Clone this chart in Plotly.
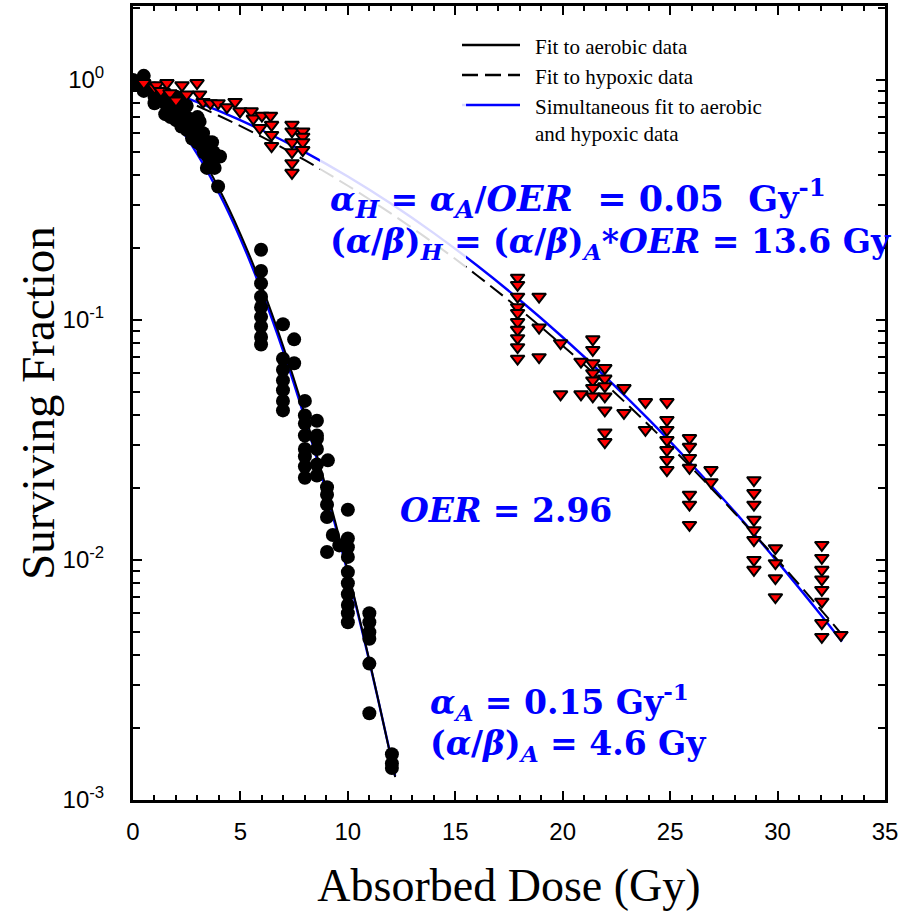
import plotly.graph_objects as go

# ---------------- data ----------------
aer_dose = [0, 0, 0.25, 0.5, 0.5, 0.5, 0.75, 1.0, 1.0, 1.0, 1.2, 1.25, 1.5, 1.5, 1.5, 1.75, 1.75,
            2.0, 2.0, 2.0, 2.2, 2.25, 2.25, 2.5, 2.5, 2.5, 2.75, 2.75, 2.8, 3.0, 3.0, 3.0, 3.1, 3.26,
            3.3, 3.44, 3.5, 3.5, 3.6, 3.68, 3.75, 3.8, 3.96, 4.05,
            5.96, 5.96, 5.96, 5.96, 5.96, 5.96, 5.96, 5.96, 5.96,
            6.98, 6.98, 6.98, 6.98, 6.98, 6.98, 6.98, 7.5, 7.5,
            8.0, 8.0, 8.0, 8.0, 8.0, 8.0, 8.0, 8.0,
            8.56, 8.56, 8.56, 8.56, 8.56, 8.56,
            9.07, 9.03, 9.03, 9.03, 9.03, 9.03, 9.3, 9.6,
            10.0, 10.0, 10.0, 10.0, 10.0, 10.0, 10.0, 10.0, 10.0, 10.0,
            11.0, 11.0, 11.0, 11.0, 11.0, 11.0,
            12.05, 12.05, 12.05]
aer_sf = [1.0, 0.97, 0.95, 1.04, 0.95, 0.9, 0.92, 0.92, 0.85, 0.8, 0.88, 0.83, 0.88, 0.8, 0.72, 0.8, 0.7,
          0.85, 0.76, 0.68, 0.8, 0.72, 0.64, 0.78, 0.7, 0.62, 0.65, 0.57, 0.6, 0.7, 0.62, 0.55, 0.67, 0.60,
          0.5, 0.43, 0.55, 0.48, 0.47, 0.55, 0.5, 0.43, 0.36, 0.48,
          0.196, 0.16, 0.142, 0.125, 0.113, 0.103, 0.094, 0.085, 0.079,
          0.096, 0.069, 0.062, 0.056, 0.051, 0.046, 0.042, 0.083, 0.066,
          0.046, 0.040, 0.037, 0.033, 0.029, 0.027, 0.0245, 0.022,
          0.038, 0.033, 0.032, 0.029, 0.025, 0.0225,
          0.026, 0.0201, 0.0187, 0.0170, 0.0151, 0.0108, 0.0127, 0.0115,
          0.0162, 0.0123, 0.0113, 0.0103, 0.0089, 0.0080, 0.0072, 0.0065, 0.0060, 0.0055,
          0.0060, 0.0055, 0.0050, 0.0047, 0.0037, 0.0023,
          0.00155, 0.00142, 0.00136]

hyp_dose = [0.5, 1.0, 1.1, 1.3, 1.58, 1.72, 2.0, 2.28, 2.5, 2.98, 3.1, 3.26, 3.6, 3.96, 4.37, 4.75,
            4.98, 5.5, 5.6, 5.9, 6.0, 6.4, 6.45, 6.45, 6.45,
            7.4, 7.4, 7.4, 7.4, 7.4, 7.4, 7.9, 7.9, 7.9, 7.9,
            17.9, 17.9, 17.9, 17.9, 17.9, 17.9, 17.9, 17.9, 17.9, 17.9,
            18.9, 18.9, 18.9, 19.9, 19.9, 20.85, 20.85,
            21.4, 21.4, 21.4, 21.4, 21.4, 21.4, 21.4,
            21.96, 21.96, 21.96, 21.96, 21.96, 21.96, 21.96,
            22.85, 22.85, 23.85, 23.85,
            24.85, 24.85, 24.85, 24.85, 24.85, 24.85, 24.85,
            25.9, 25.9, 25.9, 25.9, 25.9, 25.9, 25.9,
            26.9, 26.9,
            28.9, 28.9, 28.9, 28.9, 28.9, 28.9, 28.9, 28.9,
            29.9, 29.9, 29.9, 29.9,
            32.06, 32.06, 32.06, 32.06, 32.06, 32.06, 32.06, 32.06,
            32.95]
hyp_sf = [0.97, 0.93, 0.95, 0.9, 0.97, 0.88, 0.82, 0.95, 0.87, 0.97, 0.87, 0.81, 0.80, 0.80, 0.77, 0.81,
          0.74, 0.74, 0.69, 0.63, 0.71, 0.71, 0.65, 0.59, 0.53,
          0.65, 0.61, 0.55, 0.50, 0.45, 0.41, 0.61, 0.58, 0.55, 0.51,
          0.150, 0.140, 0.125, 0.113, 0.107, 0.098, 0.091, 0.084, 0.077, 0.069,
          0.125, 0.093, 0.070, 0.080, 0.049, 0.067, 0.049,
          0.083, 0.075, 0.066, 0.060, 0.056, 0.052, 0.048,
          0.063, 0.057, 0.053, 0.048, 0.042, 0.034, 0.031,
          0.052, 0.041, 0.0455, 0.0348,
          0.0455, 0.0383, 0.0348, 0.0316, 0.0287, 0.0261, 0.0237,
          0.0322, 0.0296, 0.0266, 0.0242, 0.0187, 0.0170, 0.0140,
          0.0237, 0.0211,
          0.0215, 0.0190, 0.0170, 0.0147, 0.0133, 0.0121, 0.0100, 0.0091,
          0.0112, 0.0097, 0.0084, 0.0070,
          0.01155, 0.0102, 0.0091, 0.0083, 0.0075, 0.0067, 0.00546, 0.00478,
          0.00487]

# fitted curves
fitA_dose = [0, 1, 2, 3, 4, 5, 6, 7, 8, 9, 10, 11, 12, 12.2]
fitA_sf = [1.0, 0.856, 0.684, 0.509, 0.353, 0.228, 0.1376, 0.0773, 0.0405, 0.0198,
           0.0090, 0.00382, 0.00151, 0.001245]
simA_sf = [1.0, 0.845, 0.665, 0.490, 0.338, 0.218, 0.131, 0.0738, 0.0388, 0.0191,
           0.0088, 0.00378, 0.00152, 0.00126]

fitH_dose = [0, 2, 4, 6, 8, 10, 12, 14, 16, 18, 20, 22, 24, 26, 28, 30, 32, 33]
fitH_sf = [1.0, 0.851, 0.709, 0.579, 0.4628, 0.3624, 0.2779, 0.2088, 0.1536, 0.1107, 0.0781,
           0.0540, 0.0365, 0.0242, 0.0157, 0.0100, 0.00623, 0.00488]
simH_sf = [1.0, 0.8726, 0.7430, 0.6172, 0.5003, 0.3957, 0.3054, 0.2300, 0.1690, 0.1211, 0.0847,
           0.0578, 0.0385, 0.0250, 0.0159, 0.00982, 0.00593, 0.00457]

legend_names = ["Fit to aerobic data", "Fit to hypoxic data",
                "Simultaneous fit to aerobic<br>and hypoxic data"]

x_ticks = [0, 5, 10, 15, 20, 25, 30, 35]
y_ticks = [1, 0.1, 0.01, 0.001]
y_ticktext = ["10<sup>0</sup>", "10<sup>-1</sup>", "10<sup>-2</sup>", "10<sup>-3</sup>"]
y_minor = [m * 10.0 ** e for e in (-3, -2, -1, 0) for m in range(2, 10)]

# ---------------- figure ----------------
fig = go.Figure()

BLUE = "#0000ff"
DASH = "16px,7px"
fig.add_trace(go.Scatter(
    x=fitA_dose + [None] + fitH_dose, y=simA_sf + [None] + simH_sf,
    mode="lines", line=dict(color=BLUE, width=2.4, shape="spline"),
    name=legend_names[2], showlegend=False, connectgaps=False))
fig.add_trace(go.Scatter(
    x=fitA_dose, y=fitA_sf, mode="lines",
    line=dict(color="black", width=2, shape="spline"),
    name=legend_names[0], showlegend=False))
fig.add_trace(go.Scatter(
    x=fitH_dose, y=fitH_sf, mode="lines",
    line=dict(color="black", width=2, dash=DASH, shape="spline"),
    name=legend_names[1], showlegend=False))

fig.add_trace(go.Scatter(
    x=aer_dose, y=aer_sf, mode="markers", showlegend=False,
    marker=dict(symbol="circle", size=14, color="black", line=dict(width=0))))
fig.add_trace(go.Scatter(
    x=hyp_dose, y=hyp_sf, mode="markers", showlegend=False,
    marker=dict(symbol="triangle-down", size=12, color="#ff0000",
                line=dict(width=2, color="black"))))

# plot-area pixel helpers (paper coords) for text placement
L, R, T, B = 133, 885, 6, 800
def px(xp):
    return (xp - L) / (R - L)
def py(yp):
    return (B - yp) / (B - T)

def bigsub(s, size=25):
    return "<sub><span style='font-size:%dpx'>%s</span></sub>" % (size, s)

NB = "\u00a0"
line1 = ("<b><i>α" + bigsub("H") + "</i> = <i>α" + bigsub("A") + "</i>/"
         "<span style='font-size:35px'><i>OER</i>" + NB + " = 0.05" + NB
         + " Gy<sup>-1</sup></span></b>")

ann_font = dict(family="DejaVu Serif", size=33, color=BLUE)
annotations = [
    dict(text=line1, x=px(328), y=py(198)),
    dict(text="<b>(<i>α</i>/<i>β</i>)<sub><i>H</i></sub> = (<i>α</i>/<i>β</i>)<sub><i>A</i></sub>*<i>OER</i> = 13.6 Gy</b>",
         x=px(328), y=py(243)),
    dict(text="<b><i>OER</i> = 2.96</b>", x=px(398), y=py(510)),
    dict(text="<b><i>α<sub>A</sub></i> = 0.15 Gy<sup>-1</sup></b>", x=px(428), y=py(702)),
    dict(text="<b>(<i>α</i>/<i>β</i>)<sub><i>A</i></sub> = 4.6 Gy</b>", x=px(428), y=py(745)),
]
for a in annotations:
    fig.add_annotation(xref="paper", yref="paper", xanchor="left", yanchor="middle",
                       showarrow=False, font=ann_font, **a)

# y axis title placed as rotated text
fig.add_annotation(xref="paper", yref="paper", x=px(38), y=py(403), xanchor="center",
                   yanchor="middle", textangle=-90, showarrow=False, text="Surviving Fraction",
                   font=dict(family="Liberation Serif", size=47, color="black"))

# legend drawn as line samples + text
leg_font = dict(family="Liberation Serif", size=21, color="black")
leg_rows = [(45, dict(color="black", width=2.5)),
            (75, dict(color="black", width=2.5, dash=DASH)),
            (105, dict(color=BLUE, width=2.5))]
for (yy, ln), name in zip(leg_rows, legend_names):
    fig.add_shape(type="line", xref="paper", yref="paper", x0=px(462), x1=px(520),
                  y0=py(yy), y1=py(yy), line=ln, layer="above")
    fig.add_annotation(xref="paper", yref="paper", x=px(533), y=py(yy - 12),
                       xanchor="left", yanchor="top", align="left", showarrow=False,
                       text=name, font=leg_font)

# translucent label background that fades the hypoxic fit lines
fig.add_shape(type="rect", xref="x", yref="paper", x0=8.7, x1=15.5, y0=0.66, y1=0.88,
              fillcolor="white", opacity=0.85, line=dict(width=0), layer="above")

axis_common = dict(showline=True, linecolor="black", linewidth=3, mirror="ticks",
                   ticks="inside", tickcolor="black", tickwidth=2, showgrid=False,
                   zeroline=False, automargin=False,
                   tickfont=dict(family="Liberation Sans", size=24, color="black"))

fig.update_xaxes(range=[0, 35], tickvals=x_ticks, ticklen=9,
                 minor=dict(dtick=1, ticks="inside", ticklen=5, tickwidth=2, tickcolor="black"),
                 title=dict(text="Absorbed Dose (Gy)", standoff=26,
                            font=dict(family="Liberation Serif", size=46, color="black")),
                 ticklabelstandoff=8, **axis_common)
fig.update_yaxes(type="log", range=[-3, 0.308], tickvals=y_ticks, ticktext=y_ticktext,
                 ticklen=9,
                 minor=dict(tickvals=y_minor, ticks="inside", ticklen=7, tickwidth=2, tickcolor="black"),
                 ticklabelstandoff=21, **axis_common)

fig.update_layout(
    width=902, height=914,
    margin=dict(l=L, r=902 - R, t=T, b=914 - B, autoexpand=False),
    paper_bgcolor="white", plot_bgcolor="white",
    showlegend=False,
)

fig.write_html("out.html", config={"displayModeBar": False},
               post_script="document.body.style.margin='0';")
